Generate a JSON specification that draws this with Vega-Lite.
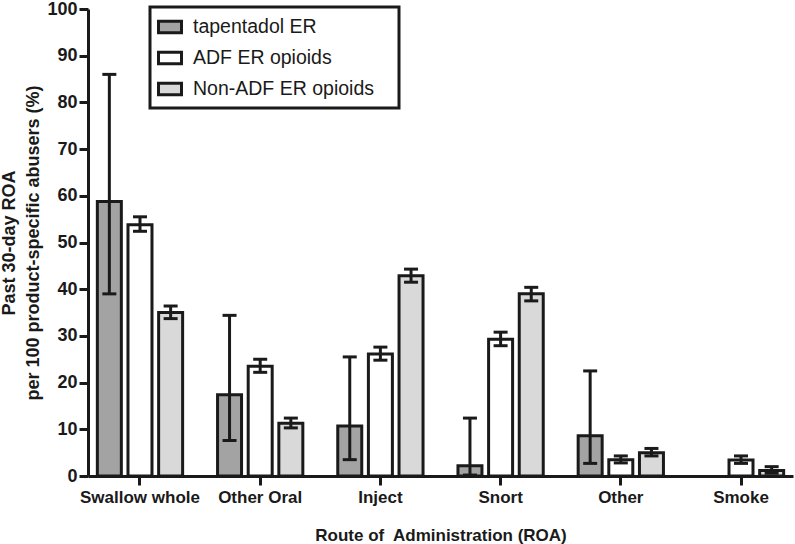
{
  "$schema": "https://vega.github.io/schema/vega-lite/v6.json",
  "width": 705,
  "height": 467,
  "autosize": "none",
  "padding": {"left": 88, "top": 9, "right": 2, "bottom": 68},
  "background": "white",
  "config": {
    "font": "Liberation Sans",
    "view": {"stroke": null},
    "axis": {"grid": false, "domainColor": "#1a1a1a", "domainWidth": 3, "tickColor": "#1a1a1a", "tickWidth": 3, "tickSize": 9, "labelColor": "#1a1a1a", "titleColor": "#1a1a1a", "labelFont": "Liberation Sans", "titleFont": "Liberation Sans"}
  },
  "data": {
    "values": [
      {"route": "Swallow whole", "group": "tapentadol ER", "value": 58.8, "lo": 39.0, "hi": 86.0},
      {"route": "Swallow whole", "group": "ADF ER opioids", "value": 53.8, "lo": 52.4, "hi": 55.5},
      {"route": "Swallow whole", "group": "Non-ADF ER opioids", "value": 35.0, "lo": 33.7, "hi": 36.4},
      {"route": "Other Oral", "group": "tapentadol ER", "value": 17.4, "lo": 7.6, "hi": 34.4},
      {"route": "Other Oral", "group": "ADF ER opioids", "value": 23.5, "lo": 22.2, "hi": 25.0},
      {"route": "Other Oral", "group": "Non-ADF ER opioids", "value": 11.3, "lo": 10.3, "hi": 12.4},
      {"route": "Inject", "group": "tapentadol ER", "value": 10.7, "lo": 3.5, "hi": 25.5},
      {"route": "Inject", "group": "ADF ER opioids", "value": 26.1, "lo": 24.8, "hi": 27.6},
      {"route": "Inject", "group": "Non-ADF ER opioids", "value": 42.9, "lo": 41.5, "hi": 44.3},
      {"route": "Snort", "group": "tapentadol ER", "value": 2.2, "lo": 0.2, "hi": 12.4},
      {"route": "Snort", "group": "ADF ER opioids", "value": 29.3, "lo": 27.9, "hi": 30.8},
      {"route": "Snort", "group": "Non-ADF ER opioids", "value": 39.0, "lo": 37.5, "hi": 40.4},
      {"route": "Other", "group": "tapentadol ER", "value": 8.6, "lo": 2.7, "hi": 22.5},
      {"route": "Other", "group": "ADF ER opioids", "value": 3.5, "lo": 2.8, "hi": 4.3},
      {"route": "Other", "group": "Non-ADF ER opioids", "value": 5.0, "lo": 4.3, "hi": 5.9},
      {"route": "Smoke", "group": "ADF ER opioids", "value": 3.4, "lo": 2.7, "hi": 4.3},
      {"route": "Smoke", "group": "Non-ADF ER opioids", "value": 1.2, "lo": 0.6, "hi": 2.0}
    ]
  },
  "encoding": {
    "x": {
      "field": "route", "type": "nominal",
      "sort": ["Swallow whole", "Other Oral", "Inject", "Snort", "Other", "Smoke"],
      "scale": {"paddingInner": 0.135, "paddingOuter": 0},
      "axis": {"title": "Route of\u00a0 Administration (ROA)", "labelAngle": 0, "labelFontSize": 17, "labelFontWeight": "bold", "titleFontSize": 17, "titleFontWeight": "bold", "labelPadding": 4, "titlePadding": 22}
    },
    "xOffset": {
      "field": "group", "type": "nominal",
      "sort": ["tapentadol ER", "ADF ER opioids", "Non-ADF ER opioids"],
      "scale": {"paddingInner": 0.217, "paddingOuter": 0.305}
    }
  },
  "layer": [
    {
      "mark": {"type": "bar", "stroke": "#1a1a1a", "strokeWidth": 3, "opacity": 1},
      "encoding": {
        "y": {
          "field": "value", "type": "quantitative",
          "scale": {"domain": [0, 100], "nice": false},
          "axis": {"values": [0, 10, 20, 30, 40, 50, 60, 70, 80, 90, 100], "title": ["Past 30-day ROA", "per 100 product-specific abusers (%)"], "labelFontSize": 18, "labelFontWeight": "bold", "labelPadding": 2, "titleFontSize": 18, "titleFontWeight": "bold", "titlePadding": 4, "titleLineHeight": 24}
        },
        "fill": {
          "field": "group", "type": "nominal",
          "sort": ["tapentadol ER", "ADF ER opioids", "Non-ADF ER opioids"],
          "scale": {"domain": ["tapentadol ER", "ADF ER opioids", "Non-ADF ER opioids"], "range": ["#a3a3a3", "#ffffff", "#d9d9d9"]},
          "legend": {
            "title": "x", "titleOrient": "right", "titleColor": "white", "titleFontSize": 10, "titlePadding": 12,
            "orient": "none", "legendX": 62, "legendY": -2,
            "padding": 7,
            "symbolType": "M-1,-0.5H1V0.5H-1Z", "symbolSize": 529, "symbolStrokeColor": "#1a1a1a", "symbolStrokeWidth": 3, "symbolOpacity": 1,
            "labelFontSize": 19.5, "labelColor": "#1a1a1a", "labelOffset": 10, "rowPadding": 6, "labelLimit": 400,
            "encode": {"legend": {"update": {"stroke": {"value": "#1a1a1a"}, "strokeWidth": {"value": 3}, "fill": {"value": "white"}}}}
          }
        }
      }
    },
    {
      "mark": {"type": "rule", "color": "#1a1a1a", "strokeWidth": 3},
      "encoding": {"y": {"field": "lo", "type": "quantitative"}, "y2": {"field": "hi"}}
    },
    {
      "mark": {"type": "tick", "color": "#1a1a1a", "thickness": 3, "size": 14, "opacity": 1},
      "encoding": {"y": {"field": "hi", "type": "quantitative"}}
    },
    {
      "mark": {"type": "tick", "color": "#1a1a1a", "thickness": 3, "size": 14, "opacity": 1},
      "encoding": {"y": {"field": "lo", "type": "quantitative"}}
    }
  ]
}
